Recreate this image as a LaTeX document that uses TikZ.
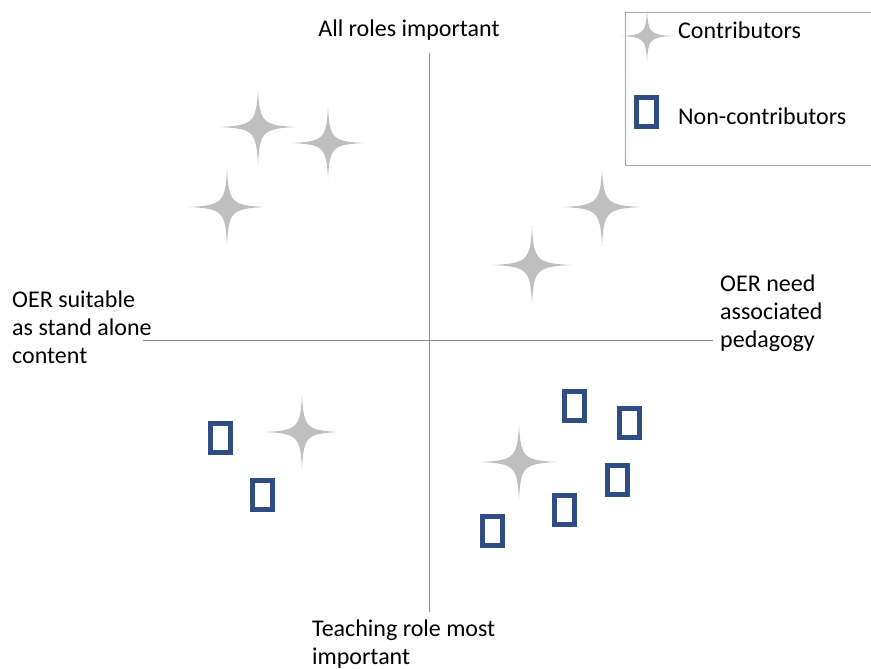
\documentclass[tikz,border=0pt]{standalone}
\usepackage{fontspec}
\setmainfont{Carlito}
\usepackage{tikz}
\usetikzlibrary{positioning}
\definecolor{stargray}{HTML}{BFBFBF}
\definecolor{boxblue}{HTML}{2F4C85}
\definecolor{axisgray}{HTML}{7A8FA6}
\tikzset{label/.style = {inner sep = 0, align = left, font = \fontsize{24}{28}\selectfont}}
\tikzset{nonc/.style = {draw = boxblue, line width = 5, minimum width = 20, minimum height = 29, inner sep = 0}}
\tikzset{axis/.style = {draw = axisgray, line width = 1}}
\tikzset{contrib/.pic = {
    \fill [stargray] (#1, 0) .. controls (0.12*#1, 0.045*#1) and (0.045*#1, 0.12*#1) .. (0, #1)
                           .. controls (-0.045*#1, 0.12*#1) and (-0.12*#1, 0.045*#1) .. (-#1, 0)
                           .. controls (-0.12*#1, -0.045*#1) and (-0.045*#1, -0.12*#1) .. (0, -#1)
                           .. controls (0.045*#1, -0.12*#1) and (0.12*#1, -0.045*#1) .. cycle;}}

\begin{document}
\begin{tikzpicture}[x = 1pt, y = -1pt]
      \useasboundingbox (0, 0) rectangle (871, 669);

      % axes
      \coordinate (top) at (429, 53);
      \coordinate (bottom) at (429, 612);
      \coordinate (left) at (143, 340);
      \coordinate (right) at (713, 340);
      \draw [axis] (top) -- (bottom);
      \draw [axis] (left) -- (right);

      \node [label] (allroles) at (409, 30) {All roles important};
      \node [label, anchor = west] (standalone) at (12, 327) {OER suitable\\as stand alone\\content};
      \node [label, anchor = west] (pedagogy) at (720, 313) {OER need\\associated\\pedagogy};
      \node [label, anchor = west] (teaching) at (312, 644) {Teaching role most\\important};

      % legend
      \draw [gray!70] (871, 12) -- (625, 12) -- (625, 165) -- (871, 165);
      \pic at (647, 36) {contrib=26};
      \node [label, anchor = west] (contriblabel) at (678, 30) {Contributors};
      \node [nonc] (legendbox) at (646, 112) {};
      \node [label, anchor = west] (noncontriblabel) at (678, 116) {Non-contributors};

      % contributors
      \pic at (258, 127) {contrib=38};
      \pic at (328, 143) {contrib=36};
      \pic at (227, 207) {contrib=38};
      \pic at (602, 207) {contrib=39};
      \pic at (532, 265) {contrib=39};
      \pic at (302, 432) {contrib=37};
      \pic at (519, 462) {contrib=38};

      % non-contributors
      \node [nonc] (n1) at (220, 438) {};
      \node [nonc] (n2) at (262, 495) {};
      \node [nonc] (n3) at (574, 406) {};
      \node [nonc] (n4) at (629, 423) {};
      \node [nonc] (n5) at (617, 480) {};
      \node [nonc] (n6) at (564, 510) {};
      \node [nonc] (n7) at (492, 531) {};
    \end{tikzpicture}
\end{document}
